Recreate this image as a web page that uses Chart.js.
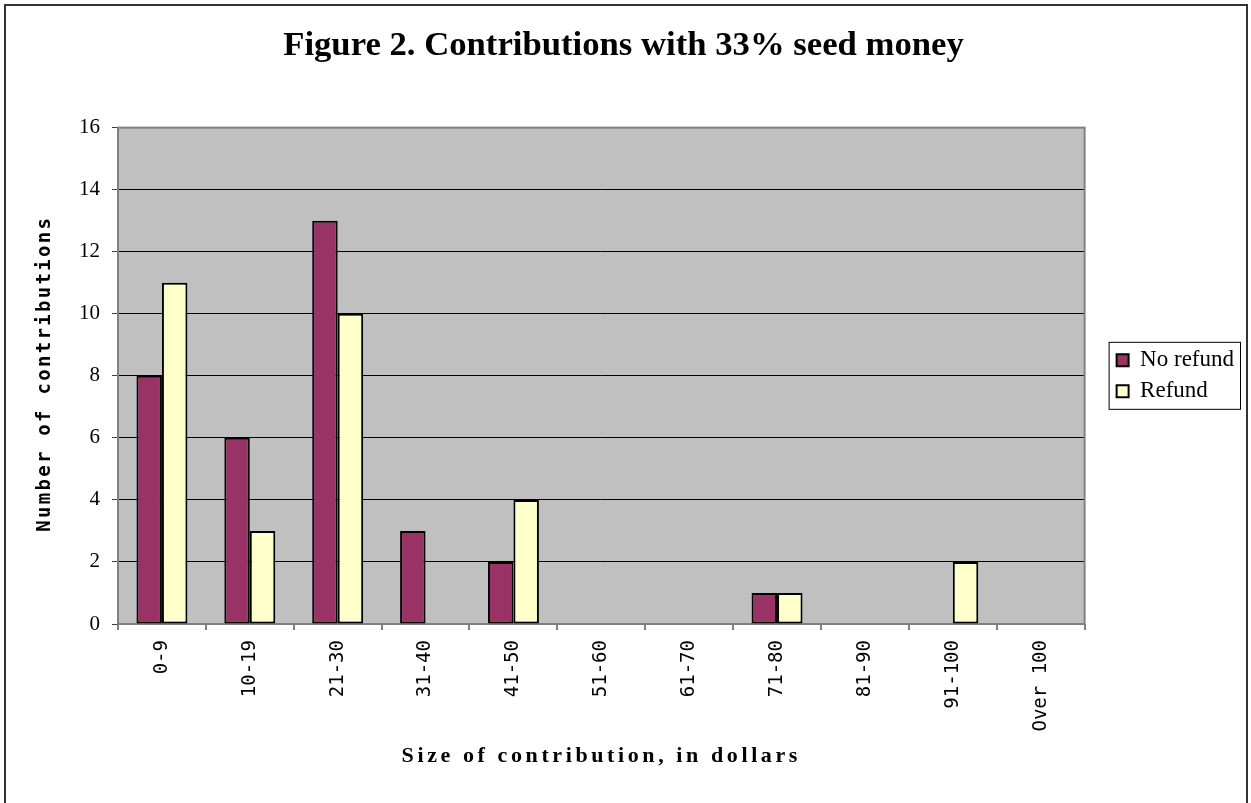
<!DOCTYPE html>
<html>
<head>
<meta charset="utf-8">
<title>Figure 2. Contributions with 33% seed money</title>
<script src="https://cdn.jsdelivr.net/npm/chart.js@4.4.0/dist/chart.umd.min.js"></script>
<style>
    html, body { margin: 0; padding: 0; background: #fff; }
    #wrap { width: 1251px; height: 803px; position: relative; }
</style>
</head>
<body>
<div id="wrap"><canvas id="contribChart"></canvas></div>
<script>
// Values
const categories = ['0-9', '10-19', '21-30', '31-40', '41-50', '51-60', '61-70', '71-80', '81-90', '91-100', 'Over 100'];
const noRefund = [8, 6, 13, 3, 2, 0, 0, 1, 0, 0, 0];
const refund = [11, 3, 10, 0, 4, 0, 0, 1, 0, 2, 0];
const yTicks = [0, 2, 4, 6, 8, 10, 12, 14, 16];

const chartTitle = 'Figure 2. Contributions with 33% seed money';
const xTitle = 'Size of contribution, in dollars';
const yTitle = 'Number of contributions';

// Gray plot background, plot border, outer frame, legend box and spaced axis titles
const excelLook = {
    id: 'excelLook',
    beforeDraw(chart) {
        const { ctx, chartArea: a } = chart;
        ctx.save();
        ctx.fillStyle = '#fff';
        ctx.fillRect(0, 0, chart.width, chart.height);
        ctx.fillStyle = '#C0C0C0';
        ctx.fillRect(a.left, a.top, a.width, a.height);
        ctx.restore();
    },
    beforeDatasetsDraw(chart) {
        const { ctx, chartArea: a } = chart;
        ctx.save();
        ctx.strokeStyle = '#808080';
        ctx.lineWidth = 2;
        ctx.strokeRect(a.left, a.top, a.width, a.height);
        ctx.restore();
    },
    afterDraw(chart) {
        const { ctx, chartArea: a } = chart;
        ctx.save();

        // outer frame (bottom edge runs off the picture)
        ctx.strokeStyle = '#333';
        ctx.lineWidth = 2;
        ctx.strokeRect(5, 5, chart.width - 9, chart.height + 20);

        // legend border
        const hb = chart.legend.legendHitBoxes;
        if (hb && hb.length) {
            const first = hb[0], last = hb[hb.length - 1];
            const right = Math.max(...hb.map(h => h.left + h.width));
            const x0 = first.left - 8, y0 = first.top - 7;
            ctx.strokeStyle = '#000';
            ctx.lineWidth = 1;
            ctx.strokeRect(x0 + 0.5, y0 + 0.5, right + 6 - x0, last.top + last.height + 6 - y0);
        }

        // axis titles
        ctx.fillStyle = '#000';
        ctx.textAlign = 'center';
        ctx.textBaseline = 'middle';
        ctx.font = 'bold 22px "Liberation Serif"';
        ctx.letterSpacing = '3.6px';
        ctx.fillText(xTitle, (a.left + a.right) / 2, a.bottom + 132);

        ctx.translate(45, (a.top + a.bottom) / 2 - 2);
        ctx.rotate(-Math.PI / 2);
        ctx.font = 'bold 19px "DejaVu Sans Mono"';
        ctx.letterSpacing = '2.3px';
        ctx.fillText(yTitle, 0, 0);
        ctx.restore();
    }
};

new Chart(document.getElementById('contribChart'), {
    type: 'bar',
    data: {
        labels: categories,
        datasets: [
            { label: 'No refund', data: noRefund, backgroundColor: '#993366' },
            { label: 'Refund', data: refund, backgroundColor: '#FFFFCC' }
        ]
    },
    options: {
        responsive: true,
        maintainAspectRatio: false,
        animation: false,
        layout: { padding: { top: 8, right: 7, left: 3, bottom: 0 } },
        datasets: {
            bar: {
                borderColor: '#000',
                borderWidth: 2,
                borderSkipped: false,
                categoryPercentage: 0.58,
                barPercentage: 1.0
            }
        },
        scales: {
            x: {
                ticks: {
                    color: '#000',
                    font: { family: '"DejaVu Sans Mono"', size: 19 },
                    minRotation: 90,
                    maxRotation: 90,
                    autoSkip: false,
                    padding: 10
                },
                grid: { drawOnChartArea: false, drawTicks: true, tickLength: 6, tickColor: '#808080', lineWidth: 2 },
                border: { display: false },
                afterFit: s => { s.height = 179; }
            },
            y: {
                min: 0,
                max: 16,
                afterBuildTicks: s => { s.ticks = yTicks.map(v => ({ value: v })); },
                ticks: {
                    color: '#000',
                    font: { family: '"Liberation Serif"', size: 21 },
                    padding: 12
                },
                grid: { color: '#000', lineWidth: 1, tickLength: 6, tickColor: '#404040' },
                border: { display: false },
                afterFit: s => { s.width = 115; }
            },
            y2: {
                position: 'right',
                display: true,
                grid: { display: false },
                ticks: { display: false },
                border: { display: false },
                afterFit: s => { s.width = 24; }
            }
        },
        plugins: {
            title: {
                display: true,
                text: chartTitle,
                color: '#000',
                font: { family: '"Liberation Serif"', size: 34.7, weight: 'bold' },
                padding: { top: 17, bottom: 61 }
            },
            legend: {
                position: 'right',
                align: 'center',
                fullSize: false,
                labels: {
                    color: '#000',
                    boxWidth: 12,
                    boxHeight: 12,
                    padding: 8,
                    font: { family: '"Liberation Serif"', size: 23 }
                }
            },
            tooltip: { enabled: false }
        }
    },
    plugins: [excelLook]
});
</script>
</body>
</html>
